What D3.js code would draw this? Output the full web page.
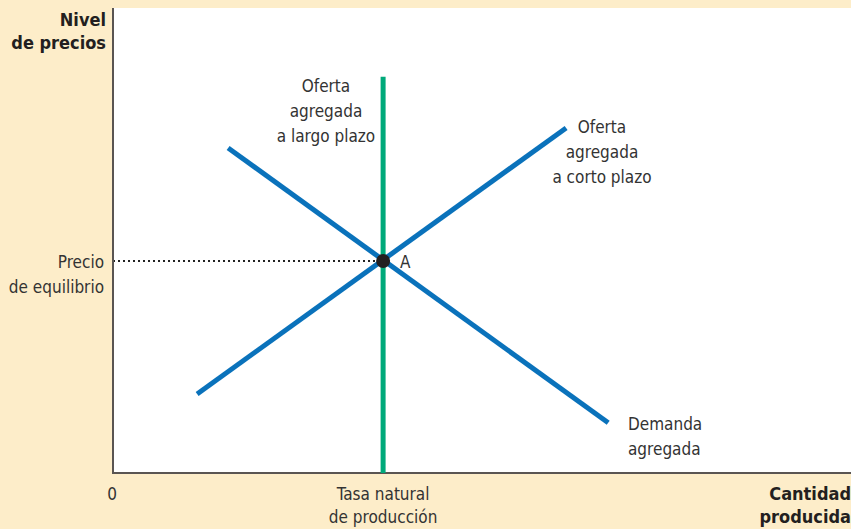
<!DOCTYPE html>
<html><head><meta charset="utf-8">
<script src="https://cdn.jsdelivr.net/npm/d3@7"></script>
<style>body{margin:0;background:#fdedc9;} svg{display:block;}</style>
</head><body>
<script>
// Data (abstract units 0..100)
const adCurve = [{x:15.6,y:69.9},{x:67.1,y:10.8}];
const srasCurve = [{x:11.4,y:17.0},{x:61.4,y:74.2}];
const lrasX = 36.6, lrasTop = 85.2;
const equilibrium = {x:36.6, y:45.6};
const yAxisTitle = ["Nivel","de precios"];
const xAxisTitle = ["Cantidad","producida"];
const priceLabel = ["Precio","de equilibrio"];
const outputLabel = ["Tasa natural","de producción"];
const lrasLabel = ["Oferta","agregada","a largo plazo"];
const srasLabel = ["Oferta","agregada","a corto plazo"];
const adLabel = ["Demanda","agregada"];

const W=851,H=529;
const svg=d3.select("body").append("svg").attr("width",W).attr("height",H);
svg.append("rect").attr("width",W).attr("height",H).attr("fill","#fdedc9");
const x=d3.scaleLinear().domain([0,100]).range([113,851]);
const y=d3.scaleLinear().domain([0,100]).range([473,8]);
svg.append("rect").attr("x",x(0)).attr("y",y(100)).attr("width",x(100)-x(0)).attr("height",y(0)-y(100)).attr("fill","#fff");

const font="'DejaVu Sans Condensed', 'DejaVu Sans', sans-serif";
const txt="#333";
const line=d3.line().x(d=>x(d.x)).y(d=>y(d.y));

// dotted price line
svg.append("line").attr("x1",x(0)).attr("x2",x(equilibrium.x)).attr("y1",y(equilibrium.y)).attr("y2",y(equilibrium.y))
 .attr("stroke","#222").attr("stroke-width",2).attr("stroke-dasharray","2,3");

// axes
svg.append("path").attr("d",`M${x(0)},${y(100)}V${y(0)}H${x(100)}`).attr("fill","none").attr("stroke","#5a5552").attr("stroke-width",2);

// LRAS
svg.append("line").attr("x1",x(lrasX)).attr("x2",x(lrasX)).attr("y1",y(0)).attr("y2",y(lrasTop))
 .attr("stroke","#00a97a").attr("stroke-width",5);
// AD, SRAS
[adCurve,srasCurve].forEach(c=>svg.append("path").attr("d",line(c)).attr("fill","none").attr("stroke","#0a72bb").attr("stroke-width",5));
svg.append("circle").attr("cx",x(equilibrium.x)).attr("cy",y(equilibrium.y)).attr("r",7).attr("fill","#231f20");

function block(lines,px,py,anchor,opts={}){
  const t=svg.append("text").attr("x",px).attr("y",py).attr("text-anchor",anchor)
   .attr("font-family",font).attr("font-size",opts.size||17).attr("font-weight",opts.bold?700:400).attr("fill",opts.bold?"#231f20":txt);
  lines.forEach((l,i)=>t.append("tspan").attr("x",px).attr("dy",i?(opts.lh||24.5):0).text(l));
}
block(yAxisTitle,106,26,"end",{bold:true,size:18,lh:23});
block(xAxisTitle,851,500,"end",{bold:true,size:18,lh:23});
block(priceLabel,104,268,"end",{lh:25});
block(outputLabel,x(lrasX),500,"middle",{lh:23});
block(["0"],112,500,"middle");
block(lrasLabel,326,92,"middle",{lh:25});
block(srasLabel,602,133,"middle",{lh:25});
block(adLabel,628,430,"start",{lh:25});
block(["A"],400,268,"start");
</script>
</body></html>
